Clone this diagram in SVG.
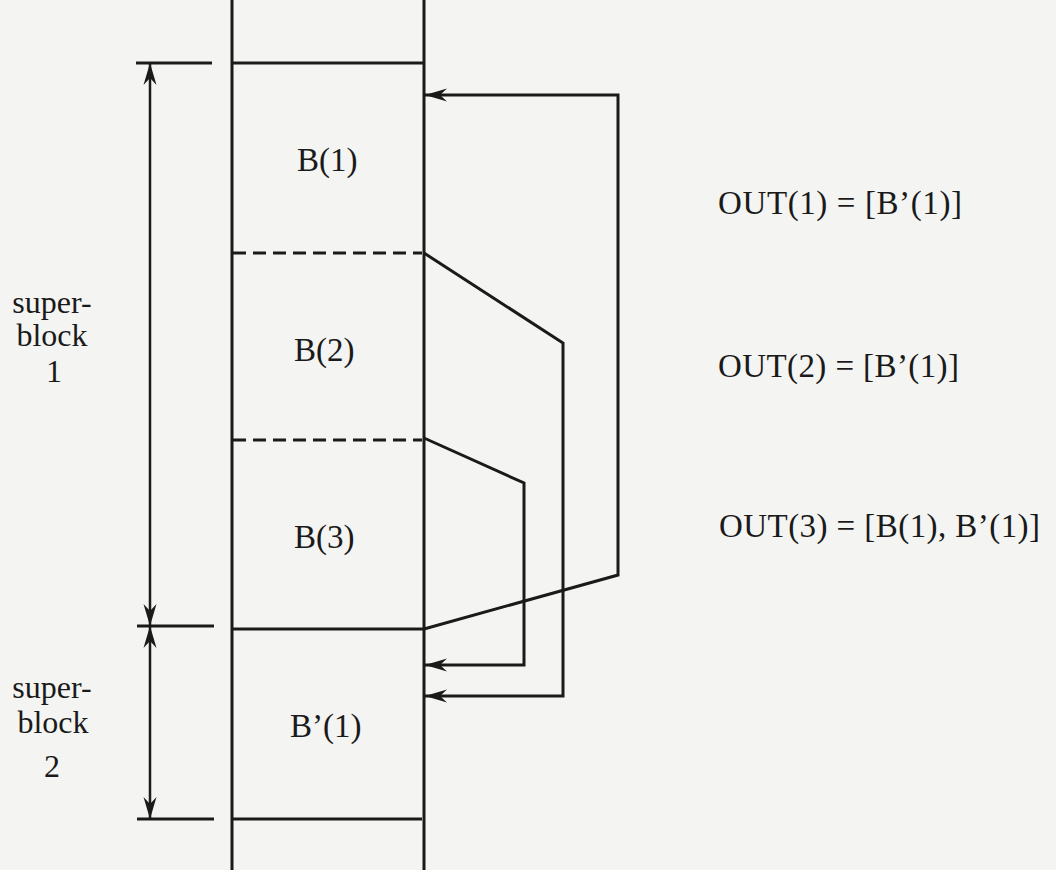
<svg xmlns="http://www.w3.org/2000/svg" width="1056" height="870" viewBox="0 0 1056 870">
  <style>
    .ln { stroke: #1a1a1a; stroke-width: 3; fill: none; }
    .dash { stroke: #1a1a1a; stroke-width: 3; fill: none; stroke-dasharray: 13 7; }
    .conn { stroke: #1a1a1a; stroke-width: 3; fill: none; stroke-linejoin: miter; }
    .dim { stroke: #1a1a1a; stroke-width: 2.5; fill: none; }
    text { font-family: "Liberation Serif", "Times New Roman", serif; font-size: 33px; fill: #1a1a1a; }
    .sb { font-size: 32px; }
  </style>
  <defs>
    <marker id="ah" viewBox="-24 -8 26 16" refX="0" refY="0" markerWidth="26" markerHeight="16" markerUnits="userSpaceOnUse" orient="auto-start-reverse">
      <path d="M0,0 L-22,-6.5 L-15,0 L-22,6.5 Z" fill="#1a1a1a"/>
    </marker>
  </defs>
  <rect x="0" y="0" width="1056" height="870" fill="#f4f4f2"/>

  <g id="stack">
    <line class="ln" x1="232" y1="0" x2="232" y2="870"/>
    <line class="ln" x1="424" y1="0" x2="424" y2="870"/>
    <line class="ln" x1="232" y1="63" x2="424" y2="63"/>
    <line class="dash" x1="233" y1="253" x2="422" y2="253"/>
    <line class="dash" x1="233" y1="440" x2="422" y2="440"/>
    <line class="ln" x1="232" y1="629" x2="424" y2="629"/>
    <line class="ln" x1="232" y1="819" x2="422" y2="819"/>
  </g>

  <g id="block-B1"><text x="297" y="171">B(1)</text></g>
  <g id="block-B2"><text x="294" y="361">B(2)</text></g>
  <g id="block-B3"><text x="294" y="548">B(3)</text></g>
  <g id="block-Bp1"><text x="290" y="737">B’(1)</text></g>

  <g id="dimensions">
    <line class="ln" x1="136" y1="63" x2="212" y2="63"/>
    <line class="ln" x1="137" y1="626" x2="214" y2="626"/>
    <line class="ln" x1="137" y1="819" x2="214" y2="819"/>
    <line class="dim" x1="150" y1="63" x2="150" y2="626" marker-start="url(#ah)" marker-end="url(#ah)"/>
    <line class="dim" x1="150" y1="626" x2="150" y2="819" marker-start="url(#ah)" marker-end="url(#ah)"/>
  </g>

  <g id="superblock1" text-anchor="middle">
    <text class="sb" x="52" y="313">super-</text>
    <text class="sb" x="52" y="346">block</text>
    <text class="sb" x="54" y="382">1</text>
  </g>
  <g id="superblock2" text-anchor="middle">
    <text class="sb" x="52" y="698">super-</text>
    <text class="sb" x="53" y="733">block</text>
    <text class="sb" x="52" y="777">2</text>
  </g>

  <g id="connectors">
    <path class="conn" d="M424,629 L618,575 L618,95 L425,95" marker-end="url(#ah)"/>
    <path class="conn" d="M424,253 L563,343 L563,696 L425,696" marker-end="url(#ah)"/>
    <path class="conn" d="M424,438 L524,483 L524,665 L425,665" marker-end="url(#ah)"/>
  </g>

  <g id="out-labels">
    <text x="718" y="214" textLength="244" lengthAdjust="spacing">OUT(1) = [B’(1)]</text>
    <text x="718" y="377" textLength="241" lengthAdjust="spacing">OUT(2) = [B’(1)]</text>
    <text x="719" y="537" textLength="321" lengthAdjust="spacing">OUT(3) = [B(1), B’(1)]</text>
  </g>
</svg>
